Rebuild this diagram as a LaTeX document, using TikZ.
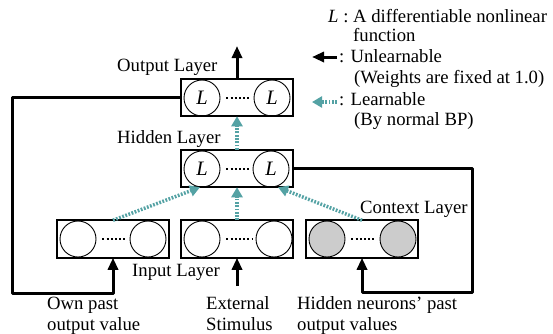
\documentclass[tikz,border=0pt]{standalone}
\usepackage{fontspec}
\setmainfont{Liberation Serif}
\usetikzlibrary{arrows.meta}
\definecolor{lteal}{RGB}{84,162,164}
\begin{document}
\begin{tikzpicture}[x=1pt,y=-1pt,
  font=\fontsize{18.7}{21}\selectfont,
  layerbox/.style={draw, line width=2.3pt, minimum width=111.5pt, minimum height=37.5pt, inner sep=0pt, outer sep=0pt},
  neuron/.style={draw, circle, line width=0.9pt, minimum size=36pt, inner sep=0pt, font=\fontsize{20.5}{22}\selectfont\itshape},
  ctxneuron/.style={neuron, fill=black!20},
  dotsline/.style={line width=2pt, dash pattern=on 1.9pt off 2.3pt},
  fixedarrow/.style={line width=3pt, line join=round, -{Triangle[width=10pt,length=12pt]}},
  learnarrow/.style={draw=lteal, line width=3.5pt, dash pattern=on 1.8pt off 1.5pt, -{Triangle[width=11pt,length=10pt]}},
  lbl/.style={anchor=base west, inner sep=0pt},
]
\useasboundingbox (0,0) rectangle (553,333);

% layer boxes
\node[layerbox] (out) at (237,97.5) {};
\node[layerbox] (hid) at (237,168.5) {};
\node[layerbox] (in1) at (113,239) {};
\node[layerbox] (in2) at (237,239) {};
\node[layerbox] (ctx) at (362,239) {};

% neurons
\node[neuron] (o1) at (202,98) {L};
\node[neuron] (o2) at (272,98) {L};
\node[neuron] (h1) at (202,169) {L};
\node[neuron] (h2) at (271,169) {L};
\node[neuron] (a1) at (78,239) {};
\node[neuron] (a2) at (148,239) {};
\node[neuron] (b1) at (202,239) {};
\node[neuron] (b2) at (274,239) {};
\node[ctxneuron] (c1) at (327,239) {};
\node[ctxneuron] (c2) at (398,239) {};

\draw[dotsline] ([xshift=6pt]o1.east) -- ([xshift=-3pt]o2.west);
\draw[dotsline] ([xshift=6pt]h1.east) -- ([xshift=-3pt]h2.west);
\draw[dotsline] ([xshift=6pt]a1.east) -- ([xshift=-3pt]a2.west);
\draw[dotsline] ([xshift=6pt]b1.east) -- ([xshift=-3pt]b2.west);
\draw[dotsline] ([xshift=6pt]c1.east) -- ([xshift=-3pt]c2.west);

% learnable connections
\draw[learnarrow] (hid.north) -- (out.south);
\draw[learnarrow] (in1.north) -- ([xshift=-37pt]hid.south);
\draw[learnarrow] (in2.north) -- (hid.south);
\draw[learnarrow] (ctx.north) -- ([xshift=41pt]hid.south);

% fixed connections
\coordinate (otop) at (237,46);
\draw[fixedarrow] (out.north) -- (otop);
\coordinate (fbl) at (12,293);
\draw[fixedarrow] (out.west) -| (fbl) -| (in1.south);
\coordinate (fbr) at (472,292);
\draw[fixedarrow] (hid.east) -| (fbr) -| (ctx.south);
\coordinate (ext) at (237,286);
\draw[fixedarrow] (ext) -- (in2.south);

% labels
\node[lbl] (lout) at (117,71) {Output Layer};
\node[lbl] (lhid) at (117,143) {Hidden Layer};
\node[lbl] (lin) at (132,276) {Input Layer};
\node[lbl] (lctx) at (360,213) {Context Layer};
\node[lbl] (own1) at (47,309) {Own past};
\node[lbl] (own2) at (47,330) {output value};
\node[lbl] (ext1) at (206,309) {External};
\node[lbl] (ext2) at (206,330) {Stimulus};
\node[lbl] (hn1) at (297,309) {Hidden neurons’ past};
\node[lbl] (hn2) at (297,330) {output values};

% legend
\node[lbl] (leg1) at (328,22) {\textit{L} : A differentiable nonlinear};
\node[lbl] (leg1b) at (353,41) {function};
\coordinate (la1) at (337,57);
\coordinate (lb1) at (312,57);
\draw[fixedarrow] (la1) -- (lb1);
\node[lbl] (leg2) at (339,62) {: Unlearnable};
\node[lbl] (leg2b) at (354,83) {(Weights are fixed at 1.0)};
\coordinate (la2) at (337,102);
\coordinate (lb2) at (312,102);
\draw[learnarrow] (la2) -- (lb2);
\node[lbl] (leg3) at (339,105) {: Learnable};
\node[lbl] (leg3b) at (354,125) {(By normal BP)};
\end{tikzpicture}
\end{document}
